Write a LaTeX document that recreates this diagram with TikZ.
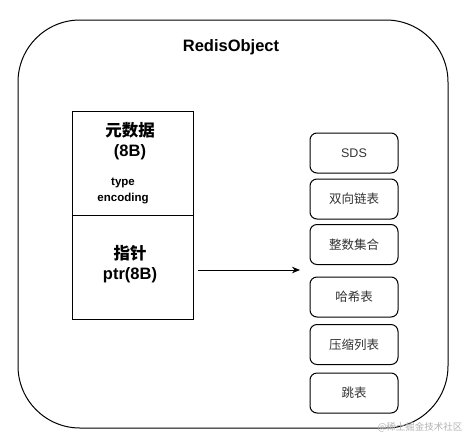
\documentclass[tikz,border=0pt]{standalone}
\usepackage{fontspec}
\setmainfont{Liberation Sans}
\newfontfamily\cjk{Noto Sans CJK SC}
\usetikzlibrary{arrows.meta}
\begin{document}
\begin{tikzpicture}[x=1pt,y=-1pt,
    box/.style={draw,line width=1pt,rounded corners=7pt,minimum width=88pt,minimum height=40pt,
      text=black!80,font=\cjk\fontsize{12.5}{14}\selectfont},
    cell/.style={draw,line width=1pt,minimum width=121pt,minimum height=104pt}]
  \useasboundingbox (0,0) rectangle (474,445);
  \node[draw,line width=1pt,rounded corners=62pt,minimum width=430pt,minimum height=408pt] (obj) at (233,224) {};
  \node[font=\bfseries\fontsize{16.5}{18}\selectfont] (title) at (231,47) {RedisObject};
  \node[cell] (meta) at (132.5,163) {};
  \node[cell] (ptr) at (132.5,267) {};
  \node[align=center,font=\bfseries\fontsize{16.5}{19.5}\selectfont] (metatext) at (130,141) {{\cjk 元数据}\\(8B)};
  \node[align=center,font=\bfseries\fontsize{11.5}{15.5}\selectfont] (fields) at (123,191) {type\\encoding};
  \node[align=center,font=\bfseries\fontsize{16.5}{19.5}\selectfont] (ptrtext) at (130,264) {{\cjk 指针}\\ptr(8B)};
  \draw
    (354,153) node[box] (0){\rmfamily SDS}
    (354,199) node[box] (1){双向链表}
    (354,244.5) node[box] (2){整数集合}
    (354,297) node[box] (3){哈希表}
    (354,344.5) node[box] (4){压缩列表}
    (354,393) node[box] (5){跳表};
  \coordinate (tip) at (300,270);
  \begin{scope}[-{Stealth[length=8pt,width=6.5pt,inset=2.5pt]},line width=1pt]
    \draw[shorten <=4pt] (ptr.east |- tip) to (tip);
  \end{scope}
  \node[text=black!30,font=\cjk\fontsize{9.5}{11}\selectfont] (mark) at (420,427) {@稀土掘金技术社区};
\end{tikzpicture}
\end{document}
